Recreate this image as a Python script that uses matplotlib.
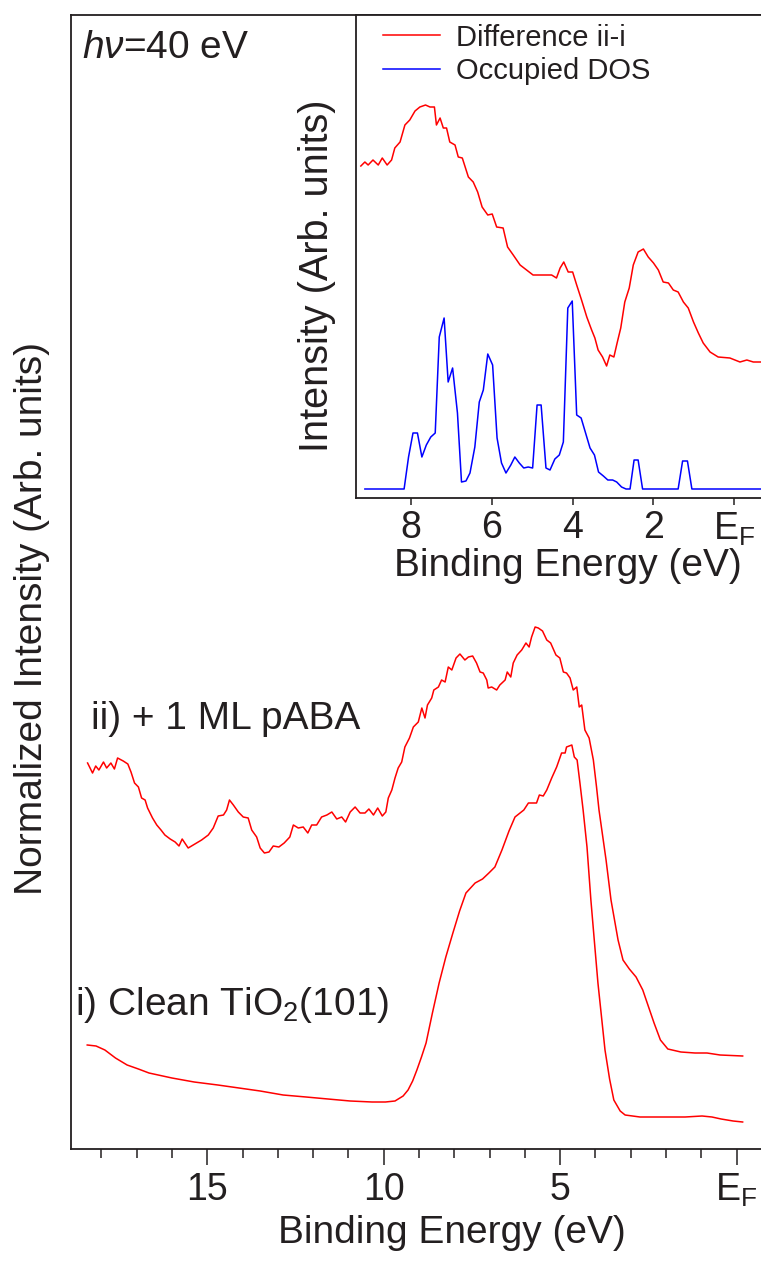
import matplotlib
matplotlib.use("Agg")
import matplotlib.pyplot as plt

plt.rcParams['font.family'] = ['Liberation Sans', 'DejaVu Sans']
plt.rcParams['mathtext.fontset'] = 'custom'
plt.rcParams['mathtext.rm'] = 'Liberation Sans'
plt.rcParams['mathtext.it'] = 'Liberation Sans:italic'
plt.rcParams['mathtext.bf'] = 'Liberation Sans:bold'

INK = '#231f20'
RED = '#ff0000'
BLUE = '#0000ff'

# ---- main panel: valence band spectra (binding energy in eV, arb. intensity) ----
be_pABA = [18.39, 18.25, 18.16, 18.07, 17.94, 17.85, 17.73, 17.63, 17.54, 17.38,
           17.25, 17.16, 17.06, 16.95, 16.86, 16.76, 16.69, 16.55, 16.43, 16.31,
           16.20, 16.05, 15.91, 15.80, 15.71, 15.54, 15.35, 15.16, 14.97, 14.83,
           14.69, 14.54, 14.45, 14.37, 14.26, 14.12, 13.98, 13.84, 13.74, 13.60,
           13.50, 13.38, 13.25, 13.13, 12.97, 12.82, 12.66, 12.56, 12.42, 12.28,
           12.15, 12.04, 11.90, 11.76, 11.61, 11.47, 11.33, 11.19, 11.08, 10.95,
           10.81, 10.67, 10.53, 10.42, 10.29, 10.17, 10.04, 9.94, 9.87, 9.77,
           9.68, 9.59, 9.49, 9.40, 9.27, 9.16, 9.02, 8.92, 8.83, 8.76,
           8.64, 8.58, 8.45, 8.36, 8.26, 8.17, 8.07, 7.95, 7.84, 7.70,
           7.60, 7.48, 7.37, 7.27, 7.18, 7.08, 7.04, 6.94, 6.80, 6.71,
           6.56, 6.50, 6.40, 6.33, 6.22, 6.09, 5.97, 5.88, 5.81, 5.71,
           5.62, 5.50, 5.38, 5.27, 5.12, 5.01, 4.91, 4.82, 4.72, 4.63,
           4.53, 4.46, 4.39, 4.30, 4.18, 4.06, 3.97, 3.90, 3.82, 3.70,
           3.56, 3.36, 3.22, 3.04, 2.85, 2.66, 2.34, 2.16, 1.95, 1.58,
           1.18, 0.84, 0.47, -0.17]
int_pABA = [3.86, 3.76, 3.83, 3.79, 3.87, 3.81, 3.86, 3.80, 3.91, 3.88,
            3.85, 3.77, 3.66, 3.62, 3.51, 3.49, 3.41, 3.31, 3.24, 3.19,
            3.14, 3.10, 3.07, 3.03, 3.10, 3.01, 3.05, 3.09, 3.14, 3.21,
            3.33, 3.34, 3.39, 3.49, 3.44, 3.37, 3.32, 3.31, 3.19, 3.12,
            3.01, 2.96, 2.97, 3.03, 3.02, 3.06, 3.12, 3.24, 3.21, 3.22,
            3.16, 3.24, 3.24, 3.32, 3.34, 3.37, 3.30, 3.32, 3.27, 3.37,
            3.42, 3.36, 3.36, 3.40, 3.34, 3.41, 3.33, 3.37, 3.51, 3.59,
            3.71, 3.81, 3.87, 4.02, 4.11, 4.22, 4.27, 4.41, 4.31, 4.44,
            4.51, 4.59, 4.62, 4.69, 4.67, 4.82, 4.79, 4.91, 4.95, 4.89,
            4.92, 4.93, 4.86, 4.77, 4.76, 4.69, 4.61, 4.62, 4.59, 4.64,
            4.69, 4.77, 4.72, 4.86, 4.94, 4.99, 5.06, 5.02, 5.12, 5.22,
            5.21, 5.18, 5.09, 5.06, 4.94, 4.91, 4.77, 4.76, 4.71, 4.59,
            4.62, 4.42, 4.44, 4.19, 4.11, 3.89, 3.62, 3.39, 3.19, 2.89,
            2.49, 2.09, 1.89, 1.80, 1.72, 1.59, 1.26, 1.09, 1.00, 0.97,
            0.96, 0.96, 0.94, 0.93]

be_clean = [18.40, 18.15, 17.90, 17.60, 17.27, 16.95, 16.65, 16.00, 15.37, 14.70,
            14.10, 13.50, 12.85, 12.20, 11.58, 10.95, 10.33, 9.95, 9.68, 9.45,
            9.31, 9.18, 9.06, 8.93, 8.80, 8.62, 8.43, 8.24, 8.04, 7.85,
            7.67, 7.41, 7.20, 7.02, 6.85, 6.65, 6.45, 6.28, 6.03, 5.90,
            5.76, 5.67, 5.59, 5.48, 5.38, 5.24, 5.10, 4.96, 4.86, 4.82,
            4.67, 4.60, 4.52, 4.44, 4.35, 4.24, 4.13, 4.01, 3.93, 3.73,
            3.60, 3.48, 3.30, 3.16, 2.74, 2.10, 1.46, 0.98, 0.70, 0.44,
            0.10, -0.17]
int_clean = [1.04, 1.03, 0.99, 0.91, 0.84, 0.80, 0.76, 0.71, 0.67, 0.64,
             0.61, 0.58, 0.54, 0.52, 0.50, 0.48, 0.47, 0.47, 0.48, 0.53,
             0.59, 0.68, 0.79, 0.92, 1.06, 1.36, 1.66, 1.92, 2.16, 2.38,
             2.56, 2.66, 2.70, 2.76, 2.82, 2.99, 3.18, 3.32, 3.39, 3.46,
             3.46, 3.46, 3.54, 3.53, 3.59, 3.71, 3.82, 3.96, 3.96, 4.02,
             4.04, 3.92, 3.89, 3.66, 3.39, 3.02, 2.49, 1.99, 1.66, 0.99,
             0.70, 0.49, 0.38, 0.34, 0.32, 0.32, 0.32, 0.33, 0.32, 0.30,
             0.28, 0.27]

# ---- inset: difference spectrum and calculated occupied DOS ----
be_diff = [9.24, 9.14, 9.06, 8.94, 8.81, 8.71, 8.59, 8.48, 8.40, 8.27,
           8.15, 8.03, 7.90, 7.78, 7.64, 7.53, 7.42, 7.37, 7.28, 7.20,
           7.12, 7.04, 6.91, 6.83, 6.73, 6.58, 6.46, 6.35, 6.24, 6.10,
           5.99, 5.88, 5.72, 5.61, 5.47, 5.30, 5.14, 4.98, 4.77, 4.52,
           4.40, 4.31, 4.22, 4.11, 4.00, 3.90, 3.78, 3.65, 3.53, 3.45,
           3.37, 3.26, 3.16, 3.08, 2.98, 2.90, 2.81, 2.71, 2.60, 2.50,
           2.38, 2.25, 2.13, 2.00, 1.88, 1.76, 1.63, 1.51, 1.39, 1.26,
           1.14, 1.01, 0.89, 0.77, 0.60, 0.40, 0.11, -0.14, -0.31, -0.47,
           -0.66]
int_diff = [3.32, 3.36, 3.33, 3.38, 3.33, 3.40, 3.33, 3.38, 3.50, 3.56,
            3.73, 3.78, 3.87, 3.91, 3.93, 3.91, 3.91, 3.73, 3.80, 3.70,
            3.70, 3.56, 3.53, 3.41, 3.40, 3.21, 3.16, 3.06, 2.91, 2.83,
            2.84, 2.71, 2.70, 2.51, 2.43, 2.33, 2.28, 2.23, 2.23, 2.23,
            2.20, 2.30, 2.36, 2.26, 2.26, 2.13, 1.98, 1.81, 1.68, 1.60,
            1.48, 1.41, 1.32, 1.43, 1.41, 1.55, 1.70, 1.96, 2.10, 2.33,
            2.46, 2.49, 2.41, 2.35, 2.28, 2.16, 2.15, 2.08, 2.06, 1.96,
            1.90, 1.76, 1.65, 1.55, 1.46, 1.41, 1.40, 1.36, 1.38, 1.36,
            1.36]

be_dos = [9.14, 8.17, 8.06, 7.95, 7.84, 7.73, 7.62, 7.51, 7.40, 7.30,
          7.18, 7.08, 6.97, 6.85, 6.75, 6.64, 6.54, 6.42, 6.31, 6.21,
          6.10, 5.98, 5.87, 5.76, 5.65, 5.53, 5.43, 5.32, 5.21, 5.10,
          4.99, 4.88, 4.78, 4.66, 4.56, 4.44, 4.33, 4.23, 4.12, 4.01,
          3.90, 3.79, 3.68, 3.57, 3.46, 3.36, 3.24, 3.13, 3.01, 2.91,
          2.79, 2.68, 2.58, 2.48, 2.38, 2.27, 1.39, 1.28, 1.16, 1.05,
          -0.66]
int_dos = [0.09, 0.09, 0.41, 0.65, 0.65, 0.41, 0.53, 0.61, 0.65, 1.61,
           1.80, 1.16, 1.30, 0.85, 0.16, 0.17, 0.25, 0.51, 0.96, 1.08,
           1.44, 1.33, 0.60, 0.35, 0.25, 0.33, 0.41, 0.35, 0.30, 0.31,
           0.30, 0.93, 0.93, 0.30, 0.28, 0.39, 0.43, 0.56, 1.90, 1.97,
           0.83, 0.80, 0.65, 0.50, 0.43, 0.26, 0.22, 0.18, 0.18, 0.16,
           0.11, 0.09, 0.09, 0.38, 0.38, 0.09, 0.09, 0.37, 0.37, 0.09,
           0.09]

main_ticks = [15, 10, 5, 0]
main_ticklabels = ['15', '10', '5', r'E$_\mathrm{F}$']
inset_ticks = [8, 6, 4, 2, 0]
inset_ticklabels = ['8', '6', '4', '2', r'E$_\mathrm{F}$']

W, H = 761, 1261
fig = plt.figure(figsize=(W / 100, H / 100), dpi=100)

# main axes (pixel box 71..761 x 15..1149)
ax = fig.add_axes([71 / W, 1 - 1149 / H, 1 - 71 / W, (1149 - 15) / H])
ax.plot(be_pABA, int_pABA, color=RED, lw=1.1)
ax.plot(be_clean, int_clean, color=RED, lw=1.1)
ax.set_xlim(18.86, -0.69)
ax.set_ylim(0, 11.34)
ax.set_xticks(main_ticks)
ax.set_xticklabels(main_ticklabels)
ax.set_xticks(range(1, 19), minor=True)
ax.set_yticks([])
ax.spines['right'].set_visible(False)
for s in ['left', 'bottom', 'top']:
    ax.spines[s].set_color(INK)
    ax.spines[s].set_linewidth(1.3)
ax.tick_params(axis='x', which='major', direction='out', length=11.5, width=1.1,
               color=INK, labelsize=27, labelcolor=INK, pad=5)
ax.tick_params(axis='x', which='minor', direction='out', length=6.5, width=1.1, color=INK)
ax.set_xlabel('Binding Energy (eV)', fontsize=28, color=INK)
ax.xaxis.set_label_coords(0.552, -0.058)
ax.set_ylabel('Normalized Intensity (Arb. units)', fontsize=28, color=INK)
ax.yaxis.set_label_coords(-0.030, 0.468)

fig.text(82 / W, 1 - 48 / H, r'$h\nu$=40 eV', fontsize=28, color=INK, va='center')
fig.text(91 / W, 1 - 719 / H, 'ii) + 1 ML pABA', fontsize=28, color=INK, va='center')
fig.text(75 / W, 1 - 1005 / H, r'i) Clean TiO$_2$(101)', fontsize=28, color=INK, va='center')

# inset axes (pixel box 356..761 x 15..498)
axi = fig.add_axes([356 / W, 1 - 498 / H, 1 - 356 / W, (498 - 15) / H])
axi.plot(be_diff, int_diff, color=RED, lw=1.1, label='Difference ii-i')
axi.plot(be_dos, int_dos, color=BLUE, lw=1.1, label='Occupied DOS')
axi.set_xlim(9.36, -0.66)
axi.set_ylim(0, 4.83)
axi.set_xticks(inset_ticks)
axi.set_xticklabels(inset_ticklabels)
axi.set_yticks([])
axi.spines['right'].set_visible(False)
for s in ['left', 'bottom', 'top']:
    axi.spines[s].set_color(INK)
    axi.spines[s].set_linewidth(1.3)
axi.tick_params(axis='x', direction='out', length=5, width=1.1, color=INK,
                labelsize=27, labelcolor=INK, pad=4)
axi.set_xlabel('Binding Energy (eV)', fontsize=28, color=INK)
axi.xaxis.set_label_coords(0.523, -0.104)
axi.set_ylabel('Intensity (Arb. units)', fontsize=28.5, color=INK)
axi.yaxis.set_label_coords(-0.049, 0.46)
leg = axi.legend(loc='upper left', bbox_to_anchor=(0.066, 0.982), frameon=False,
                 fontsize=21, handlelength=1.95, handletextpad=0.55, labelspacing=0.18,
                 borderaxespad=0.0, borderpad=0.0)
for t in leg.get_texts():
    t.set_color(INK)

fig.savefig('out.png', dpi=100)
